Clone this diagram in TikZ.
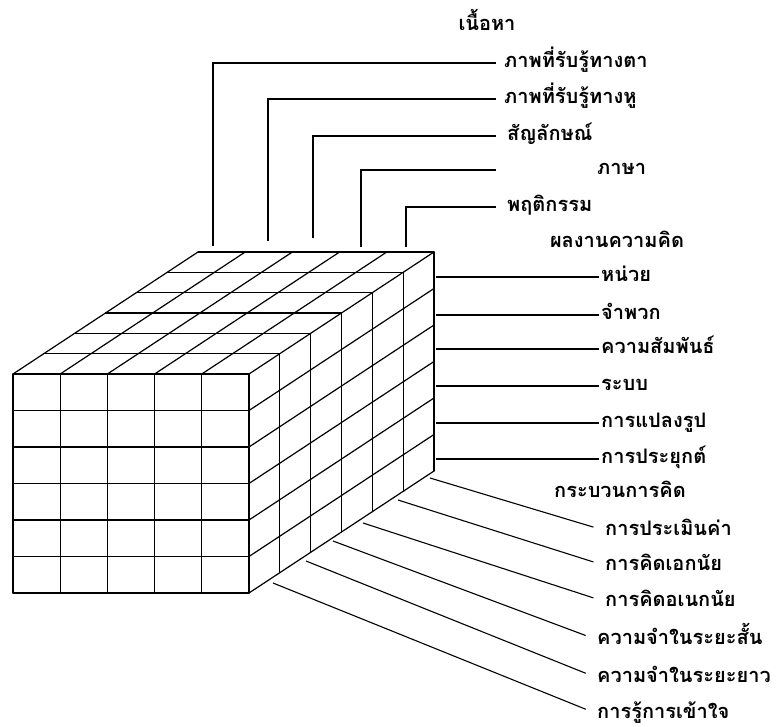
\documentclass[tikz,border=0pt]{standalone}
\usepackage{fontspec}
\newfontfamily\thaifont[Script=Thai]{Loma}
\usetikzlibrary{positioning}

\begin{document}
\begin{tikzpicture}[
  x=1pt, y=-1pt,
  font=\thaifont\bfseries\fontsize{20}{24}\selectfont,
  cell/.style={line width=1.2pt, line cap=round},
  leader/.style={line width=1.1pt},
  lbl/.style={anchor=west, inner sep=2pt, text height=15pt, text depth=5pt},
  head/.style={inner sep=2pt, text height=15pt, text depth=5pt}
]
\useasboundingbox (0,0) rectangle (777,727);

% Cube: 5 contents x 6 products x 6 operations
\def\cw{47.2} \def\rh{36.5} \def\dx{30.83} \def\dy{20.33}
% front face
\foreach \i in {0,...,5} \draw[cell] ({13+\i*\cw},374) -- ++(0,219);
\foreach \j in {0,...,6} \draw[cell] (13,{374+\j*\rh}) -- ++(236,0);
% top face
\foreach \i in {0,...,5} \draw[cell] ({13+\i*\cw},374) -- ++(185,-122);
\foreach \k in {1,...,6} \draw[cell] ({13+\k*\dx},{374-\k*\dy}) -- ++(236,0);
% right face
\foreach \k in {1,...,6} \draw[cell] ({249+\k*\dx},{374-\k*\dy}) -- ++(0,219);
\foreach \j in {1,...,6} \draw[cell] (249,{374+\j*\rh}) -- ++(185,-122);

% Contents
\node[head] (cont) at (487,26) {เนื้อหา};
\node[lbl] (t1) at (502,63) {ภาพที่รับรู้ทางตา};
\node[lbl] (t2) at (502,99) {ภาพที่รับรู้ทางหู};
\node[lbl] (t3) at (505,136) {สัญลักษณ์};
\node[lbl] (t4) at (595,170) {ภาษา};
\node[lbl] (t5) at (505,207) {พฤติกรรม};
\coordinate (c1) at (213,246);
\coordinate (c2) at (268,241);
\coordinate (c3) at (313,238);
\coordinate (c4) at (361,247);
\coordinate (c5) at (406,247);
\coordinate (tend) at (496,0);
\draw[leader] (c1) |- (t1.west -| tend);
\draw[leader] (c2) |- (t2.west -| tend);
\draw[leader] (c3) |- (t3.west -| tend);
\draw[leader] (c4) |- (t4.west -| tend);
\draw[leader] (c5) |- (t5.west -| tend);

% Products
\node[head] (prod) at (617,243) {ผลงานความคิด};
\node[lbl] (r1) at (599,277) {หน่วย};
\node[lbl] (r2) at (599,315) {จำพวก};
\node[lbl] (r3) at (599,349) {ความสัมพันธ์};
\node[lbl] (r4) at (599,386) {ระบบ};
\node[lbl] (r5) at (599,423) {การแปลงรูป};
\node[lbl] (r6) at (599,459) {การประยุกต์};
\coordinate (b1) at (436,277);
\coordinate (b2) at (436,315);
\coordinate (b3) at (436,349);
\coordinate (b4) at (436,386);
\coordinate (b5) at (436,423);
\coordinate (b6) at (436,459);
\draw[leader] (b1) -- (r1);
\draw[leader] (b2) -- (r2);
\draw[leader] (b3) -- (r3);
\draw[leader] (b4) -- (r4);
\draw[leader] (b5) -- (r5);
\draw[leader] (b6) -- (r6);

% Operations
\node[head] (proc) at (620,492) {กระบวนการคิด};
\node[lbl] (p1) at (603,530) {การประเมินค่า};
\node[lbl] (p2) at (603,565) {การคิดเอกนัย};
\node[lbl] (p3) at (603,601) {การคิดอเนกนัย};
\node[lbl] (p4) at (595,639) {ความจำในระยะสั้น};
\node[lbl] (p5) at (595,677) {ความจำในระยะยาว};
\node[lbl] (p6) at (595,713) {การรู้การเข้าใจ};
\coordinate (s1) at (430,478);
\coordinate (s2) at (398,500);
\coordinate (s3) at (363,523);
\coordinate (s4) at (333,541);
\coordinate (s5) at (306,561);
\coordinate (s6) at (273,583);
\draw[leader, shorten >=10pt] (s1) -- (p1.west);
\draw[leader, shorten >=10pt] (s2) -- (p2.west);
\draw[leader, shorten >=10pt] (s3) -- (p3.west);
\draw[leader, shorten >=10pt] (s4) -- (p4.west);
\draw[leader, shorten >=10pt] (s5) -- (p5.west);
\draw[leader, shorten >=10pt] (s6) -- (p6.west);

\end{tikzpicture}
\end{document}
